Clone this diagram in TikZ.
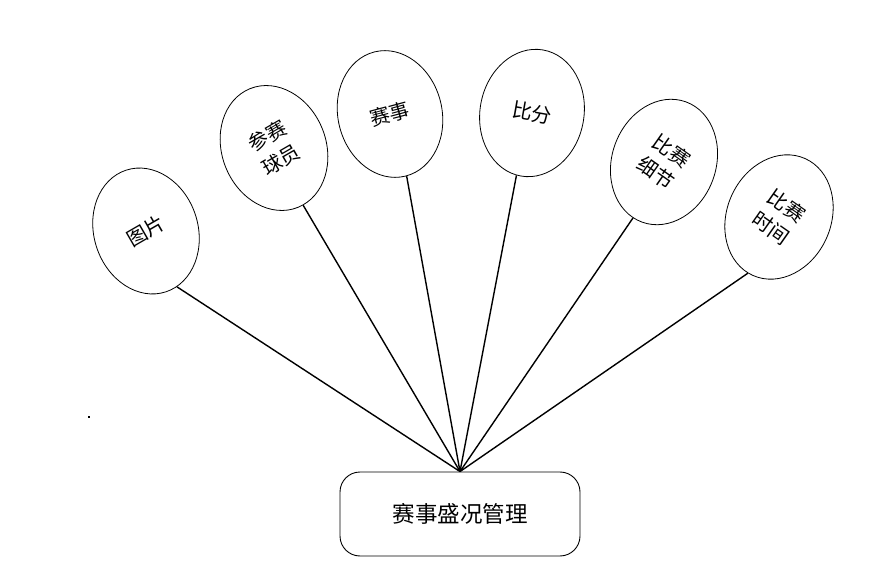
\documentclass[tikz,border=0pt]{standalone}
\usepackage{fontspec}
\setmainfont{Noto Sans CJK SC}
\usetikzlibrary{shapes.geometric}
\begin{document}
\begin{tikzpicture}[x=1pt,y=-1pt,
  oval/.style={draw=black,line width=0.8pt,ellipse,minimum width=104pt,minimum height=128pt,inner sep=0pt},
  lbl/.style={font=\fontsize{20}{27}\selectfont,align=center,inner sep=0pt},
  conn/.style={line width=1.4pt,black}]
\useasboundingbox (0,0) rectangle (871,572);
\node[draw=black,line width=0.9pt,rounded corners=20pt,minimum width=240pt,minimum height=84pt,inner sep=0pt,font=\fontsize{22.5}{27}\selectfont] (m) at (460,514) {赛事盛况管理};
\node[oval,rotate=18] (e1) at (146,231) {};
\node[oval,rotate=22] (e2) at (274,148) {};
\node[oval,rotate=14] (e3) at (390,114) {};
\node[oval,rotate=-10] (e4) at (532,113) {};
\node[oval,rotate=-20] (e5) at (664,162) {};
\node[oval,rotate=-24] (e6) at (779,217) {};
\node[lbl,rotate=30] (t1) at (e1.center) {图片};
\node[lbl,rotate=30] (t2) at (e2.center) {参赛\\球员};
\node[lbl,rotate=15] (t3) at (e3.center) {赛事};
\node[lbl,rotate=-10] (t4) at (e4.center) {比分};
\node[lbl,rotate=-35] (t5) at (e5.center) {比赛\\细节};
\node[lbl,rotate=-35] (t6) at (e6.center) {比赛\\时间};
\draw[conn] (e1.-79) -- (m.north);
\draw[conn] (e2.-85) -- (m.north);
\draw[conn] (e3.-89) -- (m.north);
\draw[conn] (e4.-94) -- (m.north);
\draw[conn] (e5.-99) -- (m.north);
\draw[conn] (e6.-95) -- (m.north);
\fill[black] (88,416) rectangle (90,418);
\end{tikzpicture}
\end{document}
